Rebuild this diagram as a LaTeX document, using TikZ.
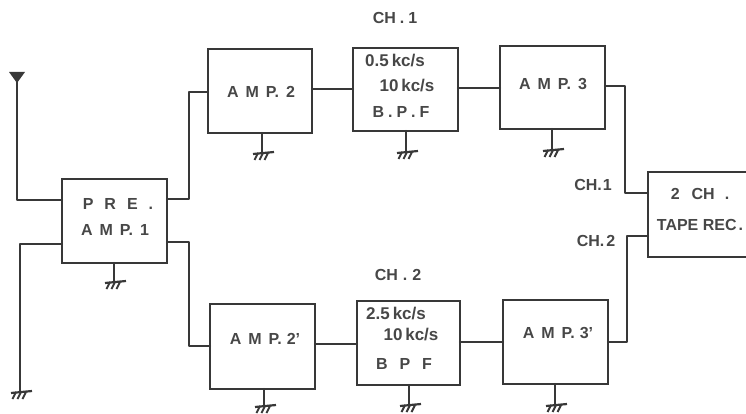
\documentclass[tikz,border=0pt]{standalone}
\usepackage{fontspec}
\setmainfont{Liberation Sans}
\definecolor{ink}{gray}{0.22}
\definecolor{txt}{gray}{0.28}
\tikzset{
  x=1pt,y=-1pt,
  wire/.style={line width=2.2pt,draw=ink,line cap=round,line join=round},
  blockbox/.style={draw=ink,line width=2.2pt,inner sep=0pt,outer sep=0pt,anchor=north west},
  lbl/.style={font=\fontsize{16}{18}\selectfont\bfseries,text=txt,inner sep=0pt},
  lblb/.style={font=\fontsize{17}{19}\selectfont\bfseries,text=txt,inner sep=0pt},
  gnd/.pic={
    \draw[ink,line width=2.2pt] (-9,1) -- (12,-1);
    \foreach \a in {-4,1,6} \draw[ink,line width=2pt] (\a,0) -- (\a-3.5,7);
  }
}
\newcommand{\blk}[5]{\node[blockbox,minimum width=#4pt,minimum height=#5pt] (#1) at (#2,#3) {};}
\newcommand{\gp}[1]{\hspace{#1pt}}
\begin{document}
\begin{tikzpicture}
\useasboundingbox (0,0) rectangle (746,414);
\clip (0,0) rectangle (746,414);
\blk{pre}{62}{179}{105}{84}
\blk{amptwo}{208}{49}{104}{84}
\blk{bpfone}{353}{48}{105}{83}
\blk{ampthree}{500}{46}{105}{83}
\blk{amptwop}{210}{304}{105}{85}
\blk{bpftwo}{357}{301}{103}{84}
\blk{ampthreep}{503}{300}{105}{84}
\blk{tape}{648}{172}{130}{85}
% labels
\node[lbl] (t1) at (395,18) {CH\gp{4}.\gp{4}1};
\node[lbl] (t2) at (398,275) {CH\gp{5}.\gp{5}2};
\node[lbl] (t3) at (593,185) {CH.\gp{1}1};
\node[lbl] (t4) at (596,241) {CH.\gp{2}2};
\node[lbl] (p1) at (118,204) {P\gp{11}R\gp{11}E\gp{11}.};
\node[lbl] (p2) at (115,230) {A\gp{7}M\gp{7}P.\gp{7}1};
\node[lbl] (a2) at (261,92) {A\gp{7}M\gp{7}P.\gp{7}2};
\node[lbl] (a3) at (553,84) {A\gp{7}M\gp{7}P.\gp{7}3};
\node[lbl] (a2p) at (265,339) {A\gp{7}M\gp{7}P.\gp{5}2'};
\node[lbl] (a3p) at (558,333) {A\gp{7}M\gp{7}P.\gp{5}3'};
\node[lblb] (b1a) at (395,61) {0.5\gp{3}kc/s};
\node[lblb] (b1b) at (407,86) {10\,kc/s};
\node[lbl] (b1c) at (401,112) {B\gp{4}.\gp{4}P\gp{4}.\gp{4}F};
\node[lblb] (b2a) at (396,314) {2.5\gp{3}kc/s};
\node[lblb] (b2b) at (411,335) {10\,kc/s};
\node[lbl] (b2c) at (404,364) {B\gp{12}P\gp{12}F};
\node[lbl] (r1) at (700,194) {2\gp{12}CH\gp{10}.};
\node[lbl] (r2) at (700,225) {TAPE REC\gp{2}.};
% signal path
\coordinate (ant) at (17,75);
\coordinate (g0) at (20,392);
\draw[wire] (ant) -- (17,200) -- (pre.west |- 0,200);
\fill[ink] (9,72) -- (25,72) -- (17,83) -- cycle;
\draw[wire] (pre.west |- 0,244) -- (20,244) -- (g0);
\pic at (g0) {gnd};
\draw[wire] (pre.east |- 0,199) -- (189,199) -- (189,92) -- (amptwo.west |- 0,92);
\draw[wire] (pre.east |- 0,242) -- (189,242) -- (189,346) -- (amptwop.west |- 0,346);
\draw[wire] (amptwo.east |- 0,89) -- (bpfone.west |- 0,89);
\draw[wire] (bpfone.east |- 0,88) -- (ampthree.west |- 0,88);
\draw[wire] (ampthree.east |- 0,86) -- (625,86) -- (625,193) -- (tape.west |- 0,193);
\draw[wire] (amptwop.east |- 0,344) -- (bpftwo.west |- 0,344);
\draw[wire] (bpftwo.east |- 0,342) -- (ampthreep.west |- 0,342);
\draw[wire] (ampthreep.east |- 0,342) -- (627,342) -- (627,236) -- (tape.west |- 0,236);
% grounds
\foreach \n/\x/\yy in {pre/114/282,amptwo/262/153,bpfone/406/152,ampthree/552/150,amptwop/264/406,bpftwo/409/405,ampthreep/555/405}{
  \draw[wire] (\n.south -| \x,0) -- (\x,\yy);
  \pic at (\x,\yy) {gnd};
}
\end{tikzpicture}
\end{document}
